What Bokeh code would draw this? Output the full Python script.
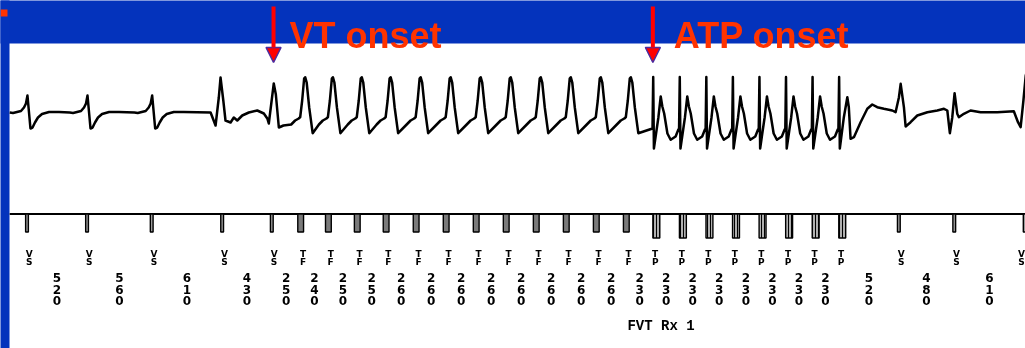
import numpy as np
from bokeh.plotting import figure
from bokeh.models import Range1d, ColumnDataSource, BoxAnnotation, Arrow, NormalHead
from bokeh.core.properties import value
from bokeh.embed import file_html
from bokeh.resources import INLINE

marker_codes = ["VS"] * 5 + ["TF"] * 12 + ["TP"] * 8 + ["VS"] * 3
intervals_ms = [520, 560, 610, 430,
                250, 240, 250, 250,
                260, 260, 260, 260, 260, 260, 260, 260,
                230, 230, 230, 230, 230, 230, 230, 230,
                520, 480, 610]
beat_shapes = ["N", "N", "N", "W", "V0"] + ["V"] * 12 + ["P"] * 7 + ["Q", "A", "B", "C"]

# ECG complexes: time from the beat's marker (ms) and voltage (mV)
shape_ms = {
    "N":  [-150, -121, -52, -26, -9, 4, 30, 48, 69, 95, 130, 191, 277],
    "W":  [-100, -57, -29, -14, 10, 29, 73, 101, 131, 174, 231, 304, 361, 391, 404],
    "V0": [17, 35, 61, 101],
    "V":  [-82, -48, -17, -4, 13, 30, 39, 52, 74, 104],
    "P":  [-3, 3, 9, 48, 68, 82, 98, 126, 154, 197, 221],
    "Q":  [-3, 3, 9, 44, 74, 87, 102, 131, 189, 247, 290, 333, 391, 463],
    "A":  [-28, 1, 16, 44, 59, 102, 160, 247, 333, 391, 420],
    "B":  [-38, -17, 3, 26, 40, 83, 141, 228, 372, 516],
    "C":  [-58, -35, -11, 9, 30],
}
shape_mv = {
    "N":  [0.0, -0.05, 0.15, 0.5, 0.9, 1.7, -1.6, -1.5, -1.0, -0.5, -0.15, 0.05, 0.05],
    "W":  [0.0, -1.3, 1.5, 3.5, 1.2, -0.8, -1.0, -0.5, -0.8, -0.3, 0.0, 0.2, -0.1, -0.6, -1.1],
    "V0": [2.9, 1.8, -1.5, -1.3],
    "V":  [-1.2, -0.8, -0.6, -0.45, 1.2, 3.4, 3.53, 3.0, 0.5, -2.07],
    "P":  [-1.6, 3.55, -3.6, -0.47, 1.6, 0.6, -0.1, -2.1, -2.73, -2.4, -1.7],
    "Q":  [-1.6, 3.55, -3.6, -0.47, 1.53, 0.53, -2.63, -2.47, -0.97, 0.37, 0.8, 0.53, 0.37, 0.2],
    "A":  [0.03, 1.53, 2.87, 0.53, -1.4, -0.97, -0.3, 0.03, 0.2, 0.37, 0.2],
    "B":  [-2.07, -0.47, 1.93, -0.13, -0.47, -0.13, 0.2, 0.03, 0.03, 0.13],
    "C":  [-0.97, -1.47, 1.2, 3.7, 4.5],
}

event_labels = ["VT onset", "ATP onset"]
event_ms = [2135, 5420]
therapy_label = "FVT Rx 1"
therapy_ms = 5200
strip_start_ms = -150
strip_end_ms = 8700

# ---------------- derived ----------------
marker_ms = np.concatenate([[0], np.cumsum(intervals_ms)]).astype(float)
ecg_t, ecg_v = [], []
for m, s in zip(marker_ms, beat_shapes):
    ecg_t.extend(m + np.array(shape_ms[s], dtype=float))
    ecg_v.extend(shape_mv[s])

# ---------------- layout / style ----------------
W, H = 1025, 348
MS_PER_PX = 8.66
X0_PX = 26.5
def px_x(px):
    return (px - X0_PX) * MS_PER_PX
def px_y(py):
    return H - py

BLUE = "#0433BC"
ORANGE = "#FF3300"
ECG_BASE_PY = 112.0
PX_PER_MV = 10.0
Y_MK = px_y(213.5)
PULSE = {"VS": (-12, 12, 18), "TF": (-25, 25, 18), "TP": (0, 60, 24)}
LETTER_DX = 20
LETTER_MAX_X = px_x(1021)

p = figure(width=W, height=H, output_backend="svg", toolbar_location=None,
           x_range=Range1d(px_x(0), px_x(W)), y_range=Range1d(0, H),
           x_axis_location=None, y_axis_location=None, min_border=0,
           background_fill_color="white", border_fill_color=BLUE,
           outline_line_color=None,
           styles={"position": "fixed", "left": "0px", "top": "0px"})
p.grid.visible = False
p.extra_y_ranges = {"ecg": Range1d(-(H - ECG_BASE_PY) / PX_PER_MV, ECG_BASE_PY / PX_PER_MV)}

# blue slide frame
p.add_layout(BoxAnnotation(bottom=px_y(43), top=px_y(-10), left=px_x(-10), right=px_x(W + 10),
                           fill_color=BLUE, fill_alpha=1, line_color=None, level="underlay"))
p.add_layout(BoxAnnotation(left=px_x(-10), right=px_x(9), bottom=px_y(H + 10), top=px_y(-10),
                           fill_color=BLUE, fill_alpha=1, line_color=None, level="underlay"))
p.add_layout(BoxAnnotation(left=px_x(0), right=px_x(7), top=px_y(9), bottom=px_y(16),
                           fill_color=ORANGE, fill_alpha=1, line_color=None))

# ECG trace
p.line(ecg_t, ecg_v, y_range_name="ecg", line_color="black", line_width=2.5, line_join="round")

# marker channel
p.line([strip_start_ms, strip_end_ms], [Y_MK, Y_MK], line_color="black", line_width=1.8)
for code, fill, hatch in [("VS", "#9a9a9a", None), ("TF", "#7a7a7a", None), ("TP", "#b0b0b0", "|")]:
    ms = [m for m, c in zip(marker_ms, marker_codes) if c == code]
    a, b, d = PULSE[code]
    src = ColumnDataSource(dict(l=[m + a for m in ms], r=[m + b for m in ms],
                                t=[Y_MK] * len(ms), b=[Y_MK - d] * len(ms)))
    kw = dict(hatch_pattern=hatch, hatch_color="black", hatch_scale=3, hatch_weight=1) if hatch else {}
    p.quad(left="l", right="r", top="t", bottom="b", source=src,
           fill_color=fill, line_color="black", line_width=1.4, **kw)

# marker letters
let_x = np.minimum(marker_ms + LETTER_DX, LETTER_MAX_X)
let_src = ColumnDataSource(dict(x=let_x, a=[c[0] for c in marker_codes], b=[c[1] for c in marker_codes]))
for col, py in [("a", 253.0), ("b", 261.5)]:
    p.text(x="x", y=px_y(py), text=col, source=let_src, text_font=value("DejaVu Sans"),
           text_font_style="bold", text_font_size="9px", text_align="center",
           text_baseline="middle", text_color="black")

# interval digits
mid = (marker_ms[:-1] + marker_ms[1:]) / 2
digs = [str(v) for v in intervals_ms]
dig_src = ColumnDataSource(dict(x=mid, d0=[s[0] for s in digs], d1=[s[1] for s in digs], d2=[s[2] for s in digs]))
for col, py in [("d0", 277.0), ("d1", 288.5), ("d2", 300.0)]:
    p.text(x="x", y=px_y(py), text=col, source=dig_src, text_font=value("DejaVu Sans"),
           text_font_style="bold", text_font_size="12px", text_align="center",
           text_baseline="middle", text_color="black")

# therapy text
p.text(x=[therapy_ms], y=[px_y(325.5)], text=[therapy_label], text_font=value("Liberation Mono"),
       text_font_style="bold", text_font_size="14px", text_align="left",
       text_baseline="middle", text_color="black")

# header annotations
ev_src = ColumnDataSource(dict(x=event_ms, y0=[px_y(6)] * 2, y1=[px_y(62)] * 2))
p.add_layout(Arrow(end=NormalHead(size=15, fill_color="#FF0000", line_color="#4B2BA0", line_width=1.5),
                   x_start="x", y_start="y0", x_end="x", y_end="y1", source=ev_src,
                   line_color="#FF0000", line_width=4))
for lab, x, dx in [(event_labels[0], event_ms[0], 16), (event_labels[1], event_ms[1], 21)]:
    p.text(x=[x], y=[px_y(35)], text=[lab], x_offset=dx, text_font=value("Liberation Sans"),
           text_font_style="bold", text_font_size="36px", text_align="left",
           text_baseline="alphabetic", text_color=ORANGE)

open("out.html", "w").write(file_html(p, INLINE))
